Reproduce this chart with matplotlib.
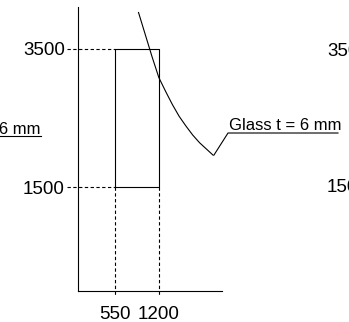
import matplotlib
matplotlib.use("Agg")
import matplotlib.pyplot as plt

plt.rcParams['font.family'] = ['Liberation Sans', 'DejaVu Sans']

# Data (mm)
rect_x = [550, 1200]          # width range
rect_y = [1500, 3500]         # height range
xtick_labels = ["550", "1200"]
ytick_labels = ["1500", "3500"]
curve_x = [900, 1000, 1100, 1200, 1300, 1400, 1500, 1600, 1700, 1800, 1900, 2000]
curve_y = [4020, 3700, 3380, 3080, 2880, 2690, 2520, 2380, 2250, 2140, 2050, 1960]
label_text = "Glass t = 6 mm"

W, H = 349, 322
fig = plt.figure(figsize=(W / 100, H / 100), dpi=100)
ax = fig.add_axes([77.5 / W, (H - 290.9) / H, (222 - 77.5) / W, (290.9 - 7) / H])
ax.set_xlim(0, (222 - 77.5) * 14.75)
ax.set_ylim(0, (290.9 - 7) * 14.44)
for s in ['top', 'right']:
    ax.spines[s].set_visible(False)
for s in ['left', 'bottom']:
    ax.spines[s].set_linewidth(0.8)
    ax.spines[s].set_color('black')

ax.set_xticks(rect_x)
ax.set_xticklabels(xtick_labels)
ax.set_yticks(rect_y)
ax.set_yticklabels(ytick_labels)
ax.tick_params(axis='both', length=0, labelsize=13.5)
ax.tick_params(axis='x', pad=11)
ax.tick_params(axis='y', pad=9)

lw = 0.8
dash = (0, (3, 2.2))
# Rectangle
x0, x1 = rect_x
y0, y1 = rect_y
ax.plot([x0, x1, x1, x0, x0], [y0, y0, y1, y1, y0], color='black', lw=lw)
# Dashed guides
for y in rect_y:
    ax.plot([-155, x0], [y, y], color='black', lw=lw, ls=dash, clip_on=False)
for x in rect_x:
    ax.plot([x, x], [y0, -80], color='black', lw=lw, ls=dash, clip_on=False)

# Curve
ax.plot(curve_x, curve_y, color='black', lw=lw, clip_on=False)

# Leader and label
ax.plot([2013, 2220, 3842], [1962, 2280, 2280], color='black', lw=lw, clip_on=False)
ax.text(2235, 2330, label_text, fontsize=12, ha='left', va='baseline', clip_on=False)

# Partial neighbouring panels (cropped)
def fx(px):
    return px / W

def fy(py):
    return (H - py) / H

fig.text(fx(41), fy(133.5), label_text, fontsize=12, ha='right', va='baseline')
fig.add_artist(plt.Line2D([fx(-100), fx(41)], [fy(135.5), fy(135.5)], color='black', lw=lw))
fig.text(fx(327), fy(51), "3500", fontsize=13.5, ha='left', va='center')
fig.text(fx(327), fy(188), "1500", fontsize=13.5, ha='left', va='center')

fig.savefig("out.png", dpi=100)
